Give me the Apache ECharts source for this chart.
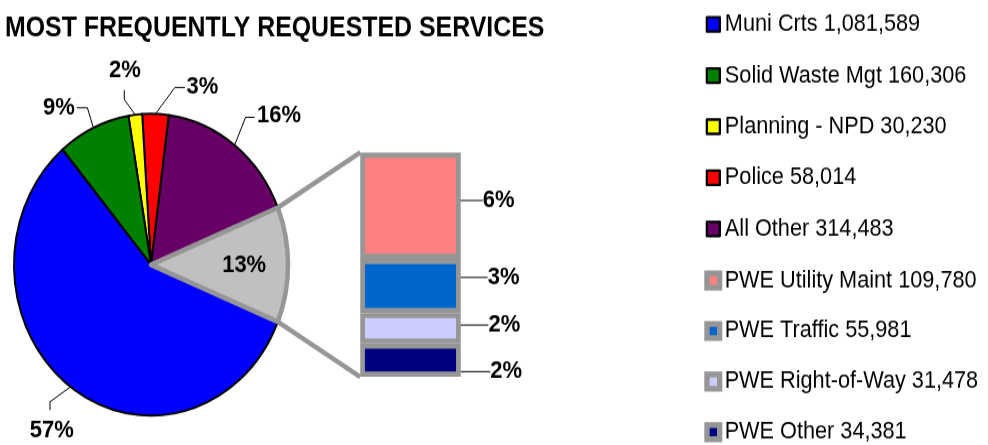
<!DOCTYPE html>
<html>
<head>
<meta charset="utf-8">
<script src="https://cdn.jsdelivr.net/npm/echarts@6/dist/echarts.min.js"></script>
<style>
  html, body { margin: 0; padding: 0; background: #fff; overflow: hidden; width: 988px; height: 445px; }
  /* the chart is laid out at 404px tall and stretched to the 445px frame */
  #chart { width: 988px; height: 404px; transform-origin: 0 0; transform: scaleY(1.10149); }
</style>
</head>
<body>
<div id="chart"></div>
<script>
// ---- data ----
const chartTitle = 'MOST FREQUENTLY REQUESTED SERVICES';

const services = ['Muni Crts', 'Solid Waste Mgt', 'Planning - NPD', 'Police', 'All Other'];
const serviceCounts = [1081589, 160306, 30230, 58014, 314483];
const serviceShares = ['57%', '9%', '2%', '3%', '16%'];

const pweName = 'PWE';
const pweShare = '13%';
const pweItems = ['PWE Utility Maint', 'PWE Traffic', 'PWE Right-of-Way', 'PWE Other'];
const pweCounts = [109780, 55981, 31478, 34381];
const pweShares = ['6%', '3%', '2%', '2%'];

// ---- styles ----
const serviceColors = ['#0000FF', '#008000', '#FFFF00', '#FF0000', '#660066'];
const pweColor = '#C0C0C0';
const pweColors = ['#FF8080', '#0066CC', '#CCCCFF', '#000080'];
const frameGray = '#969696';
const FONT = "'Liberation Sans', Arial, Helvetica, sans-serif";

// ---- layout ----
const pieCenter = [151, 240.3];
const pieRadius = 137;
const insideLabelRadius = 0.68;   // fraction of the radius for the PWE wedge label
const barBox = { left: 360.25, top: 138.45, width: 100.5, height: 203.6 };

// leader-line shapes, relative to where each slice's line leaves the pie
const pieLabelPaths = {
  'Muni Crts':       { bend: [-20.5, 13.6], end: [-20.5, 21.1], text: [-18.8, 40] },
  'Solid Waste Mgt': { bend: [-6, -18.2],   end: [-16.7, -18.2], text: [-34.4, -17.6] },
  'Planning - NPD':  { bend: [-11, -14],    end: [-11, -22.5],  text: [-10.3, -40.6] },
  'Police':          { bend: [19.5, -24],   end: [29.5, -24],   text: [47, -24] },
  'All Other':       { bend: [11, -25.3],   end: [20, -25.3],   text: [44.4, -26.6] }
};
// leader-line shapes for the stacked bar, relative to each segment's right edge
const barLabelPaths = [
  { start: [-1.4, -0.6], end: [16.9, -4.5], text: [37.9, -4.7] },
  { start: [-1.4, 0],    end: [19.9, -8.4], text: [42.8, -7.7] },
  { start: [-1.4, 0.7],  end: [19.9, -4.8], text: [43.6, -2.9] },
  { start: [-1.4, 0.6],  end: [26.9, 11.5], text: [45.4, 10.4] }
];

const sum = arr => arr.reduce((a, b) => a + b, 0);
const pweTotal = sum(pweCounts);
const grandTotal = sum(serviceCounts) + pweTotal;
const halfPweAngle = pweTotal / grandTotal * 180;   // PWE wedge is centred on 3 o'clock

const labelFont = { fontFamily: FONT, fontSize: 22, fontWeight: 'bold', color: '#000' };

// slices run counter-clockwise from the upper edge of the PWE wedge
const sliceOrder = [4, 3, 2, 1, 0];
const pieData = sliceOrder.map(i => ({
  name: services[i],
  value: serviceCounts[i],
  itemStyle: { color: serviceColors[i] }
}));
pieData.push({
  name: pweName,
  value: pweTotal,
  itemStyle: { color: pweColor, borderColor: frameGray, borderWidth: 4.5 },
  label: { position: 'inside' },
  labelLine: { show: false }
});

function shareOf(name) {
  const i = services.indexOf(name);
  return i >= 0 ? serviceShares[i] : pweShare;
}

// mid-angle of a slice, in radians, counter-clockwise from 3 o'clock
function midAngle(dataIndex) {
  let start = halfPweAngle;
  for (let k = 0; k < dataIndex; k++) start += pieData[k].value / grandTotal * 360;
  return (start + pieData[dataIndex].value / grandTotal * 180) * Math.PI / 180;
}
function pointAt(dataIndex, frac) {
  const m = midAngle(dataIndex);
  return [pieCenter[0] + frac * pieRadius * Math.cos(m), pieCenter[1] - frac * pieRadius * Math.sin(m)];
}

const pieSeries = {
  type: 'pie',
  center: pieCenter,
  radius: pieRadius,
  startAngle: halfPweAngle,
  clockwise: false,
  avoidLabelOverlap: false,
  silent: true,
  animation: false,
  data: pieData,
  itemStyle: { borderColor: '#000', borderWidth: 2 },
  label: Object.assign({ show: true, position: 'outside', formatter: p => shareOf(p.name) }, labelFont),
  labelLine: { show: true, length: 10, length2: 10, smooth: false, lineStyle: { color: '#000', width: 1 } },
  labelLayout: function (p) {
    const name = pieData[p.dataIndex].name;
    if (name === pweName) {
      const c = pointAt(p.dataIndex, insideLabelRadius);
      return { x: c[0], y: c[1] + 0.6, align: 'center', verticalAlign: 'middle' };
    }
    const path = pieLabelPaths[name];
    const p0 = (p.labelLinePoints && p.labelLinePoints[0]) || pointAt(p.dataIndex, 1);
    return {
      x: p0[0] + path.text[0],
      y: p0[1] + path.text[1],
      align: 'center',
      verticalAlign: 'middle',
      labelLinePoints: [
        [p0[0], p0[1]],
        [p0[0] + path.bend[0], p0[1] + path.bend[1]],
        [p0[0] + path.end[0], p0[1] + path.end[1]]
      ]
    };
  }
};

// stacked bar breaking down the PWE wedge; first series sits at the bottom
const barSeries = pweItems.map((name, i) => ({
  type: 'bar',
  name: name,
  stack: 'pwe',
  barWidth: '100%',
  clip: false,
  silent: true,
  animation: false,
  data: [pweCounts[i]],
  itemStyle: { color: pweColors[i], borderColor: frameGray, borderWidth: 4.7 },
  label: Object.assign({ show: true, position: 'right', formatter: pweShares[i] }, labelFont),
  labelLine: { show: true, smooth: false, lineStyle: { color: '#000', width: 1 } },
  labelLayout: function (p) {
    const path = barLabelPaths[i];
    const rx = p.rect.x + p.rect.width;
    const cy = p.rect.y + p.rect.height / 2;
    return {
      x: rx + path.text[0],
      y: cy + path.text[1],
      align: 'center',
      verticalAlign: 'middle',
      labelLinePoints: [
        [rx + path.start[0], cy + path.start[1]],
        [rx + path.end[0], cy + path.end[1]]
      ]
    };
  }
})).reverse();

// gray connectors from the PWE wedge corners to the bar's left corners
const a = halfPweAngle * Math.PI / 180;
const wedgeTop = [pieCenter[0] + pieRadius * Math.cos(a), pieCenter[1] - pieRadius * Math.sin(a)];
const wedgeBottom = [wedgeTop[0], pieCenter[1] + pieRadius * Math.sin(a)];
const connector = (p, q) => ({
  type: 'line',
  silent: true,
  shape: { x1: p[0], y1: p[1], x2: q[0], y2: q[1] },
  style: { stroke: frameGray, lineWidth: 4.5, lineCap: 'butt' }
});

const fmt = n => n.toLocaleString('en-US');
const legendText = { fontFamily: FONT, fontSize: 21.7, color: '#000' };

const option = {
  backgroundColor: '#fff',
  animation: false,
  textStyle: { fontFamily: FONT },
  title: {
    text: chartTitle,
    left: 5, top: 13.3, padding: 0,
    textStyle: { fontFamily: FONT, fontSize: 24.9, fontWeight: 'bold', color: '#000' }
  },
  legend: [
    {
      data: services,
      orient: 'vertical',
      left: 705.7, top: 11.2, padding: 0,
      itemGap: 24.4,
      itemWidth: 13, itemHeight: 13,
      icon: 'rect',
      selectedMode: false,
      itemStyle: { borderColor: '#000', borderWidth: 2.3 },
      textStyle: legendText,
      formatter: name => name + ' ' + fmt(serviceCounts[services.indexOf(name)])
    },
    {
      data: pweItems,
      orient: 'vertical',
      left: 704.3, top: 243.6, padding: 0,
      itemGap: 23.9,
      itemWidth: 12.7, itemHeight: 12.9,
      icon: 'rect',
      selectedMode: false,
      itemStyle: { borderColor: frameGray, borderWidth: 5.3 },
      textStyle: legendText,
      formatter: name => name + ' ' + fmt(pweCounts[pweItems.indexOf(name)])
    }
  ],
  grid: { left: barBox.left, top: barBox.top, width: barBox.width, height: barBox.height, containLabel: false },
  xAxis: { type: 'category', data: [pweName], show: false },
  yAxis: { type: 'value', min: 0, max: pweTotal, show: false },
  graphic: [
    connector(wedgeTop, [barBox.left, barBox.top]),
    connector(wedgeBottom, [barBox.left, barBox.top + barBox.height])
  ],
  series: [pieSeries].concat(barSeries)
};

const chart = echarts.init(document.getElementById('chart'), null, { renderer: 'canvas' });
chart.setOption(option);
// second pass so the bar leader lines pick up their custom points
chart.setOption(option);
</script>
</body>
</html>
